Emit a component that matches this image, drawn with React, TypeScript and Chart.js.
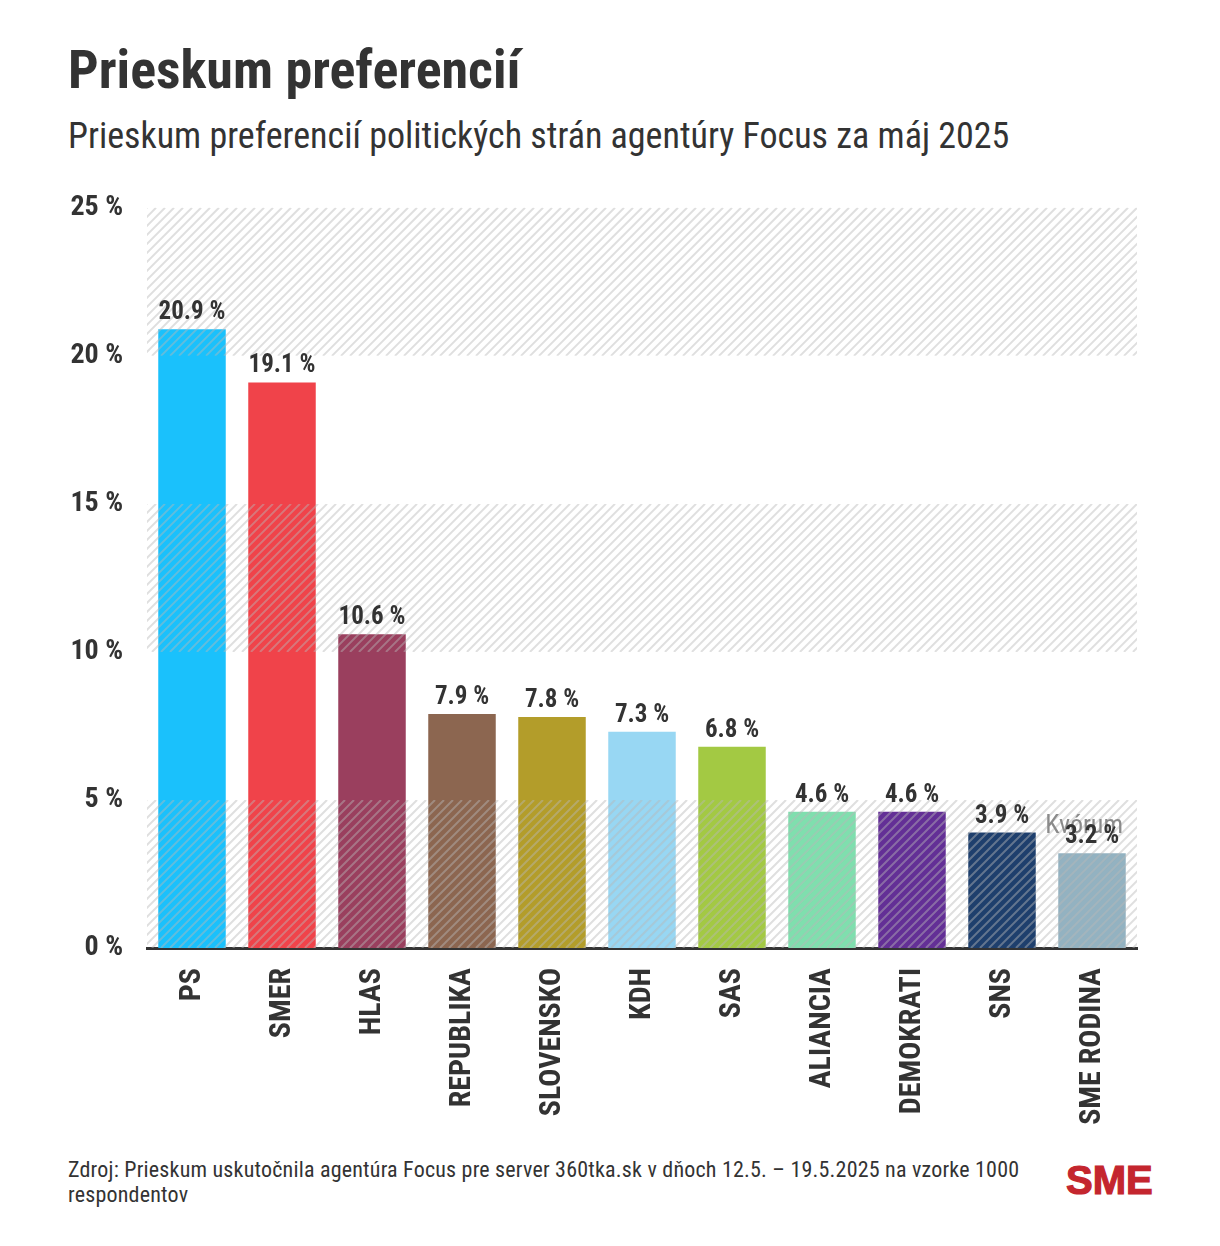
import React, { useEffect, useRef } from "react";
import { Chart, registerables } from "chart.js";

Chart.register(...registerables);

const categories = ["PS", "SMER", "HLAS", "REPUBLIKA", "SLOVENSKO", "KDH", "SAS", "ALIANCIA", "DEMOKRATI", "SNS", "SME RODINA"];
const values = [20.9, 19.1, 10.6, 7.9, 7.8, 7.3, 6.8, 4.6, 4.6, 3.9, 3.2];
const barColors = ["#1AC1FC", "#F0434A", "#9A3F5E", "#8C6650", "#B39D2A", "#98D7F3", "#A3C943", "#7FDFAE", "#632F96", "#1E3F6D", "#93B2C1"];
const yTickValues = [0, 5, 10, 15, 20, 25];
const hatchBands = [[0, 5], [10, 15], [20, 25]];
const quorumValue = 5;
const quorumLabel = "Kvórum";

const FONT = '"Roboto Condensed", "Liberation Sans Narrow", "DejaVu Sans Condensed", Roboto, sans-serif';
const TEXT = "#333333";

const overlayPlugin = {
  id: "overlay",
  afterDatasetsDraw(chart: any) {
    const { ctx, chartArea, scales } = chart;
    const y = scales.y;
    const { left, right } = chartArea;
    ctx.save();
    // hatch bands
    hatchBands.forEach(([lo, hi]) => {
      const top = y.getPixelForValue(hi);
      const bottom = y.getPixelForValue(lo);
      const h = bottom - top;
      ctx.save();
      ctx.beginPath();
      ctx.rect(left, top, right - left, h);
      ctx.clip();
      ctx.strokeStyle = "rgba(185,185,185,0.45)";
      ctx.lineWidth = 2;
      ctx.beginPath();
      for (let x0 = left - h; x0 < right + 10; x0 += 9) {
        ctx.moveTo(x0, bottom);
        ctx.lineTo(x0 + h, top);
      }
      ctx.stroke();
      ctx.restore();
    });
    // quorum label
    ctx.font = `400 26px ${FONT}`;
    ctx.fillStyle = "#8a8a8a";
    ctx.textAlign = "right";
    ctx.textBaseline = "alphabetic";
    ctx.fillText(quorumLabel, right - 14, y.getPixelForValue(quorumValue) + 33);
    // value labels
    const meta = chart.getDatasetMeta(0);
    ctx.font = `700 25px ${FONT}`;
    ctx.fillStyle = TEXT;
    ctx.textAlign = "center";
    meta.data.forEach((bar: any, i: number) => {
      ctx.fillText(`${values[i].toFixed(1)} %`, bar.x, bar.y - 10);
    });
    ctx.restore();
  },
};

function ChartView() {
  const ref = useRef<HTMLCanvasElement>(null);
  useEffect(() => {
    if (!ref.current) return;
    const chart = new Chart(ref.current, {
      type: "bar",
      data: {
        labels: categories,
        datasets: [
          {
            data: values,
            backgroundColor: barColors,
            borderWidth: 0,
            categoryPercentage: 1,
            barPercentage: 0.75,
          },
        ],
      },
      options: {
        animation: false,
        responsive: true,
        maintainAspectRatio: false,
        layout: { padding: { top: 0, right: 83, left: 0, bottom: 0 } },
        plugins: { legend: { display: false }, tooltip: { enabled: false }, title: { display: false } },
        scales: {
          x: {
            grid: { display: false, drawTicks: false },
            border: { display: true, color: "#333333", width: 3 },
            ticks: {
              autoSkip: false,
              maxRotation: 90,
              minRotation: 90,
              padding: 20,
              color: TEXT,
              font: { family: FONT, size: 30, weight: "bold" },
            },
            afterFit(scale: any) {
              scale.height = 192;
            },
          },
          y: {
            min: 0,
            max: 25,
            afterBuildTicks(scale: any) {
              scale.ticks = yTickValues.map((v) => ({ value: v }));
            },
            grid: { display: false, drawTicks: false },
            border: { display: false },
            ticks: {
              padding: 24,
              color: TEXT,
              font: { family: FONT, size: 28, weight: "bold" },
              callback: (v: any) => `${v} %`,
            },
            afterFit(scale: any) {
              scale.width = 147;
            },
          },
        },
      },
      plugins: [overlayPlugin],
    });
    return () => chart.destroy();
  }, []);
  return (
    <div style={{ position: "absolute", left: 0, top: 167, width: 1220, height: 973 }}>
      <canvas ref={ref} />
    </div>
  );
}

export default function App() {
  return (
    <div
      style={{
        position: "absolute",
        left: 0,
        top: 0,
        width: 1220,
        height: 1246,
        background: "#ffffff",
        fontFamily: FONT,
        color: TEXT,
        overflow: "hidden",
      }}
    >
      <div style={{ position: "absolute", left: 68, top: 40, fontSize: 54, fontWeight: 700, lineHeight: "60px", whiteSpace: "nowrap" }}>
        Prieskum preferencií
      </div>
      <div style={{ position: "absolute", left: 68, top: 115, fontSize: 36, fontWeight: 400, lineHeight: "42px", whiteSpace: "nowrap" }}>
        Prieskum preferencií politických strán agentúry Focus za máj 2025
      </div>
      <ChartView />
      <div style={{ position: "absolute", left: 68, top: 1157, width: 965, fontSize: 22, lineHeight: "25px", letterSpacing: 0.2 }}>
        Zdroj: Prieskum uskutočnila agentúra Focus pre server 360tka.sk v dňoch 12.5. – 19.5.2025 na vzorke 1000 respondentov
      </div>
      <div
        style={{
          position: "absolute",
          left: 1066,
          top: 1158,
          fontFamily: '"Liberation Sans", Arial, sans-serif',
          fontWeight: 700,
          fontSize: 40,
          lineHeight: "44px",
          color: "#C4262E",
          WebkitTextStroke: "1.2px #C4262E",
        }}
      >
        SME
      </div>
    </div>
  );
}
